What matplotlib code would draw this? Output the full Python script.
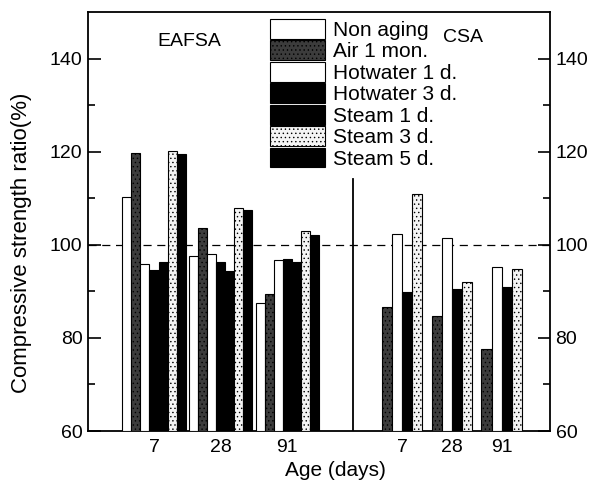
import matplotlib
matplotlib.use('Agg')
import matplotlib.pyplot as plt
import numpy as np

plt.rcParams['font.family'] = ['Liberation Sans', 'DejaVu Sans']
plt.rcParams['hatch.linewidth'] = 0.5

# data
ages = ['7', '28', '91']
eafsa_series = ['Non aging', 'Air 1 mon.', 'Hotwater 1 d.', 'Hotwater 3 d.',
                'Steam 1 d.', 'Steam 3 d.', 'Steam 5 d.']
eafsa_values = [
    [110.2, 97.5, 87.4],   # Non aging
    [119.8, 103.6, 89.4],  # Air 1 mon.
    [95.9, 98.0, 96.8],    # Hotwater 1 d.
    [94.6, 96.2, 96.9],    # Hotwater 3 d.
    [96.3, 94.3, 96.2],    # Steam 1 d.
    [120.1, 107.9, 102.9], # Steam 3 d.
    [119.5, 107.5, 102.2], # Steam 5 d.
]
csa_series = ['Air 1 mon.', 'Hotwater 1 d.', 'Hotwater 3 d.', 'Steam 3 d.']
csa_values = [
    [86.7, 84.7, 77.6],
    [102.3, 101.4, 95.3],
    [89.9, 90.5, 91.0],
    [110.8, 91.9, 94.9],
]

# fill styles per series (face colour, hatch)
styles = {
    'Non aging': ('white', None),
    'Air 1 mon.': ('#3c3c3c', '....'),
    'Hotwater 1 d.': ('white', None),
    'Hotwater 3 d.': ('black', None),
    'Steam 1 d.': ('black', None),
    'Steam 3 d.': ('#f4f4f4', '....'),
    'Steam 5 d.': ('black', None),
}

# layout in axis pixel units
x_width = 462.0
w1, start1, pitch1 = 9.05, 34.3, 66.7
w2, start2, pitch2 = 10.1, 294.0, 49.7
sep_x = 264.7

fig = plt.figure(figsize=(6.01, 4.93), dpi=100)
ax = fig.add_axes([88 / 601, 62 / 493, 462 / 601, 419 / 493])

groups = np.arange(len(ages))
for i, name in enumerate(eafsa_series):
    fc, hatch = styles[name]
    x = start1 + groups * pitch1 + i * w1
    ax.bar(x, np.array(eafsa_values[i]) - 60, bottom=60, width=w1, align='edge',
           facecolor=fc, edgecolor='black', hatch=hatch, linewidth=0.8,
           label=name, zorder=3)

for i, name in enumerate(csa_series):
    fc, hatch = styles[name]
    x = start2 + groups * pitch2 + i * w2
    ax.bar(x, np.array(csa_values[i]) - 60, bottom=60, width=w2, align='edge',
           facecolor=fc, edgecolor='black', hatch=hatch, linewidth=0.8, zorder=3)

ax.axhline(100, color='black', lw=0.9, ls=(0, (6.5, 4.5)), zorder=1)
ax.plot([sep_x, sep_x], [60, 114.2], color='black', lw=1.3, zorder=4)

ax.set_xlim(0, x_width)
ax.set_ylim(60, 150)

centers = list(start1 + groups * pitch1 + 3.5 * w1) + list(start2 + groups * pitch2 + 2 * w2)
ax.set_xticks(centers)
ax.set_xticklabels(ages + ages, fontsize=14)
ax.tick_params(axis='x', length=0, pad=6)

ax.set_yticks([60, 80, 100, 120, 140])
ax.set_yticks([70, 90, 110, 130], minor=True)
ax.tick_params(axis='y', which='both', direction='in', left=True, right=True,
               labelleft=True, labelright=True, labelsize=14, width=1.2)
ax.tick_params(axis='y', which='major', length=9, pad=4)
ax.tick_params(axis='y', which='minor', length=5)

for s in ax.spines.values():
    s.set_linewidth(1.3)

ax.set_xlabel('Age (days)', fontsize=15)
ax.set_ylabel('Compressive strength ratio(%)', fontsize=16)
ax.xaxis.set_label_coords(247 / 462, -40 / 419, transform=ax.transAxes)
ax.yaxis.set_label_coords(-66 / 462, 0.45, transform=ax.transAxes)
ax.xaxis.label.set_va('center')
ax.yaxis.label.set_va('center')

ax.text(101, 143.7, 'EAFSA', fontsize=14, ha='center', va='center')
ax.text(375, 144.5, 'CSA', fontsize=14, ha='center', va='center')

handles, labels = ax.get_legend_handles_labels()
ax.legend(handles, labels, loc='upper left', bbox_to_anchor=(182 / 462, 1 - 7 / 419),
          frameon=False, fontsize=15, handlelength=2.64, handleheight=1.09,
          labelspacing=0.02, handletextpad=0.38, borderpad=0, borderaxespad=0)

fig.savefig('out.png', dpi=100)
